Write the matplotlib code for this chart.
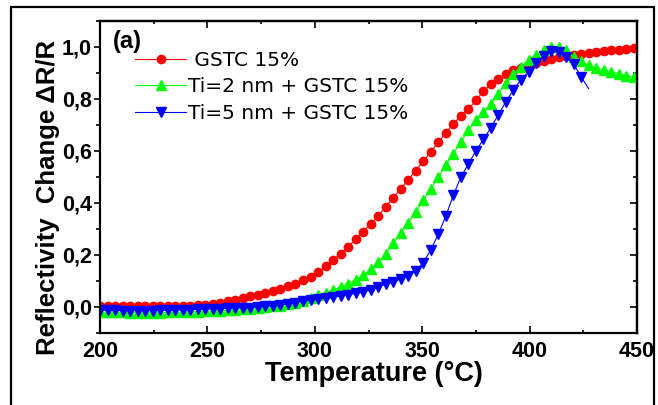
import matplotlib
matplotlib.use("Agg")
import matplotlib.pyplot as plt
from matplotlib.patches import Rectangle
from matplotlib.ticker import MultipleLocator, FuncFormatter

plt.rcParams['font.family'] = ['Liberation Sans', 'DejaVu Sans']

temps = [200, 203.5, 207, 210.5, 214, 217.5, 221, 224.5, 228, 231.5, 235, 238.5,
         242, 245.5, 249, 252.5, 256, 259.5, 263, 266.5, 270, 273.5, 277, 280.5,
         284, 287.5, 291, 294.5, 298, 301.5, 305, 308.5, 312, 315.5, 319, 322.5,
         326, 329.5, 333, 336.5, 340, 343.5, 347, 350.5, 354, 357.5, 361, 364.5,
         368, 371.5, 375, 378.5, 382, 385.5, 389, 392.5, 396, 399.5, 403, 406.5,
         410, 413.5, 417, 420.5, 424, 427.5, 431, 434.5, 438, 441.5, 445, 448.5]

gstc = [0.005, 0.005, 0.004, 0.004, 0.003, 0.003, 0.003, 0.003, 0.003, 0.003, 0.003, 0.004,
        0.005, 0.007, 0.009, 0.013, 0.017, 0.022, 0.028, 0.034, 0.041, 0.048, 0.055, 0.063,
        0.071, 0.080, 0.090, 0.102, 0.117, 0.135, 0.156, 0.180, 0.205, 0.232, 0.260, 0.290,
        0.320, 0.350, 0.385, 0.420, 0.455, 0.490, 0.525, 0.560, 0.597, 0.633, 0.670, 0.705,
        0.735, 0.760, 0.795, 0.830, 0.857, 0.878, 0.895, 0.910, 0.920, 0.930, 0.940, 0.948,
        0.955, 0.960, 0.965, 0.970, 0.975, 0.978, 0.981, 0.984, 0.987, 0.990, 0.993, 0.997]

ti2 = [-0.020, -0.020, -0.021, -0.021, -0.022, -0.022, -0.022, -0.022, -0.022, -0.021, -0.021, -0.020,
       -0.019, -0.018, -0.017, -0.016, -0.014, -0.012, -0.010, -0.008, -0.006, -0.003, -0.001, 0.002,
       0.005, 0.010, 0.017, 0.025, 0.035, 0.045, 0.055, 0.065, 0.077, 0.090, 0.105, 0.122,
       0.145, 0.172, 0.205, 0.245, 0.285, 0.325, 0.365, 0.410, 0.455, 0.500, 0.545, 0.590,
       0.635, 0.680, 0.720, 0.750, 0.780, 0.820, 0.860, 0.895, 0.925, 0.950, 0.970, 0.990,
       1.000, 1.000, 0.990, 0.960, 0.945, 0.930, 0.920, 0.912, 0.905, 0.898, 0.890, 0.884]

ti5 = [-0.012, -0.013, -0.013, -0.014, -0.014, -0.014, -0.014, -0.014, -0.013, -0.013, -0.012, -0.011,
       -0.010, -0.009, -0.008, -0.007, -0.006, -0.005, -0.004, -0.003, -0.002, 0.000, 0.002, 0.005,
       0.008, 0.012, 0.017, 0.022, 0.026, 0.030, 0.034, 0.038, 0.042, 0.047, 0.052, 0.058,
       0.066, 0.078, 0.088, 0.097, 0.108, 0.120, 0.140, 0.170, 0.220, 0.280, 0.350, 0.430,
       0.500, 0.550, 0.600, 0.645, 0.690, 0.740, 0.790, 0.835, 0.875, 0.905, 0.940, 0.965,
       0.983, 0.980, 0.963, 0.935, 0.885, 0.840]

labels = [" GSTC 15%", "Ti=2 nm + GSTC 15%", "Ti=5 nm + GSTC 15%"]
colors = ["#ff0000", "#00ff00", "#0000ff"]

W, H = 658, 405
fig = plt.figure(figsize=(W / 100, H / 100), dpi=100)
ax = fig.add_axes([100 / W, 1 - 333 / H, 537 / W, 312 / H])

ax.plot(temps, gstc, '-', color=colors[0], marker='o', ms=6, mec=colors[0],
        lw=0.8, label=labels[0])
ax.plot(temps, ti2, '-', color=colors[1], marker='^', ms=7, mec=colors[1],
        lw=0.8, label=labels[1])
ax.plot(temps[:len(ti5)], ti5, '-', color=colors[2], marker='v', ms=7, mec=colors[2],
        lw=0.8, label=labels[2], markevery=slice(0, len(ti5) - 1))

ax.set_xlim(200, 450)
ax.set_ylim(-0.1, 1.1)
ax.xaxis.set_major_locator(MultipleLocator(50))
ax.xaxis.set_minor_locator(MultipleLocator(25))
ax.yaxis.set_major_locator(MultipleLocator(0.2))
ax.yaxis.set_minor_locator(MultipleLocator(0.1))
ax.yaxis.set_major_formatter(FuncFormatter(lambda v, p: f"{v:.1f}".replace('.', ',').replace('-0,0', '0,0')))

for s in ax.spines.values():
    s.set_linewidth(1.6)

ax.tick_params(axis='x', which='both', direction='in', top=False, width=1.2, pad=6)
ax.tick_params(axis='x', which='major', length=5)
ax.tick_params(axis='x', which='minor', length=2.5)
ax.tick_params(axis='y', which='both', direction='out', right=False, width=1.2, pad=2)
ax.tick_params(axis='y', which='major', length=4)
ax.tick_params(axis='y', which='minor', length=3)
for t in ax.get_xticklabels() + ax.get_yticklabels():
    t.set_fontweight('bold')
    t.set_fontsize(15.5)

secx = ax.secondary_xaxis('top')
secx.xaxis.set_major_locator(MultipleLocator(50))
secx.xaxis.set_minor_locator(MultipleLocator(25))
secx.tick_params(axis='x', which='both', direction='in', labeltop=False, width=1.2)
secx.tick_params(axis='x', which='major', length=5)
secx.tick_params(axis='x', which='minor', length=2.5)
secx.spines['top'].set_linewidth(1.6)

secy = ax.secondary_yaxis('right')
secy.yaxis.set_major_locator(MultipleLocator(0.2))
secy.yaxis.set_minor_locator(MultipleLocator(0.1))
secy.tick_params(axis='y', which='both', direction='in', labelright=False, width=1.2)
secy.tick_params(axis='y', which='major', length=5)
secy.tick_params(axis='y', which='minor', length=3)
secy.spines['right'].set_linewidth(1.6)

ax.set_xlabel("Temperature (°C)", fontsize=19.5, fontweight='bold')
ax.xaxis.set_label_coords(0.51, -0.09)
ax.set_ylabel("Reflectivity  Change ΔR/R", fontsize=18.5, fontweight='bold')
ax.yaxis.set_label_coords(-0.074, 0.435)

ax.text(0.024, 0.935, "(a)", transform=ax.transAxes, fontsize=17, fontweight='bold',
        ha='left', va='center')

leg = ax.legend(loc='upper left', bbox_to_anchor=(0.066, 0.905), frameon=False,
                prop={'family': 'DejaVu Sans', 'size': 14.5}, handlelength=2.5,
                handletextpad=0.1, labelspacing=0.38, borderpad=0, borderaxespad=0)

fig.add_artist(Rectangle((11 / W, -0.05), (654 - 11) / W, 1.05 - 7 / H,
                         transform=fig.transFigure, fill=False, lw=1.6,
                         edgecolor='black', clip_on=False))

fig.savefig("out.png", dpi=100)
